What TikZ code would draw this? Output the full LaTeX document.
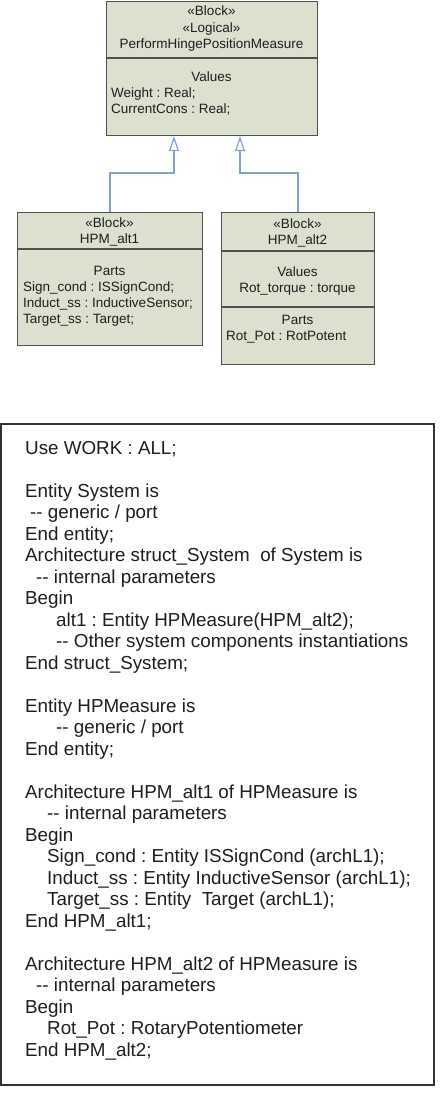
\documentclass[tikz,border=0pt]{standalone}
\usepackage{fontspec}
\setmainfont{Liberation Sans}
\usetikzlibrary{arrows.meta}
\definecolor{blockfill}{RGB}{220,224,206}
\definecolor{blockline}{RGB}{80,80,80}
\definecolor{inhline}{RGB}{130,160,212}
\definecolor{codeline}{RGB}{50,50,50}
\definecolor{txt}{RGB}{30,30,30}
\frenchspacing
\begin{document}
\frenchspacing
\begin{tikzpicture}[x=1pt,y=-1pt,
  blockbox/.style={draw=blockline,line width=1.1pt,fill=blockfill},
  sep/.style={draw=blockline,line width=1.1pt},
  btxt/.style={font=\fontsize{13.5}{16}\selectfont\frenchspacing,text=txt,inner sep=0pt,anchor=base},
  bltxt/.style={btxt,anchor=base west},
  ctxt/.style={font=\fontsize{18.8}{21.5}\selectfont\frenchspacing,text=txt,inner sep=0pt,anchor=base west},
  inh/.style={draw=inhline,line width=1.2pt,-{Triangle[open,length=15pt,width=10pt]}},
  codebox/.style={draw=codeline,line width=1.6pt,fill=white}
]
\path[use as bounding box] (0,0) rectangle (441,1100);

% ---------- top block ----------
\node[blockbox,minimum width=211pt,minimum height=134pt,inner sep=0pt,anchor=north west] (top) at (106,1) {};
\draw[sep] (top.west |- 0,58) -- (top.east |- 0,58);
\node[btxt] (t1) at (211.5,16) {«Block»};
\node[btxt] (t2) at (211.5,32) {«Logical»};
\node[btxt] (t3) at (211.5,48) {PerformHingePositionMeasure};
\node[btxt] (t4) at (211.5,81) {Values};
\node[bltxt] (t5) at (111,97) {Weight : Real;};
\node[bltxt] (t6) at (111,113) {CurrentCons : Real;};

% ---------- HPM_alt1 ----------
\node[blockbox,minimum width=185pt,minimum height=133pt,inner sep=0pt,anchor=north west] (alt1) at (17,212) {};
\draw[sep] (alt1.west |- 0,249) -- (alt1.east |- 0,249);
\node[btxt] (a1) at (109.5,227) {«Block»};
\node[btxt] (a2) at (109.5,243) {HPM\_alt1};
\node[btxt] (a3) at (109.5,275) {Parts};
\node[bltxt] (a4) at (23,291) {Sign\_cond : ISSignCond;};
\node[bltxt] (a5) at (23,307) {Induct\_ss : InductiveSensor;};
\node[bltxt] (a6) at (23,323) {Target\_ss : Target;};

% ---------- HPM_alt2 ----------
\node[blockbox,minimum width=153pt,minimum height=152pt,inner sep=0pt,anchor=north west] (alt2) at (221,212) {};
\draw[sep] (alt2.west |- 0,251) -- (alt2.east |- 0,251);
\draw[sep] (alt2.west |- 0,307) -- (alt2.east |- 0,307);
\node[btxt] (b1) at (297.5,228) {«Block»};
\node[btxt] (b2) at (297.5,244) {HPM\_alt2};
\node[btxt] (b3) at (297.5,276) {Values};
\node[btxt] (b4) at (297.5,292) {Rot\_torque : torque};
\node[btxt] (b5) at (297.5,324) {Parts};
\node[bltxt] (b6) at (226,340) {Rot\_Pot : RotPotent};

% ---------- generalisations ----------
\coordinate (j1) at (174,173);
\coordinate (j2) at (240,173);
\draw[inh] (alt1.north) |- (j1) -- (j1 |- top.south);
\draw[inh] (alt2.north) |- (j2) -- (j2 |- top.south);

% ---------- code box ----------
\node[codebox,minimum width=433pt,minimum height=661pt,inner sep=0pt,anchor=north west] (code) at (0,423) {};
\node[ctxt] (c1)  at (25,454)   {Use WORK : ALL;};
\node[ctxt] (c2)  at (25,497)   {Entity System is};
\node[ctxt] (c3)  at (30,518.5) {-{}- generic / port};
\node[ctxt] (c4)  at (25,540)   {End entity;};
\node[ctxt] (c5)  at (25,561.5) {Architecture struct\_System\ \ of System is};
\node[ctxt] (c6)  at (36,583)   {-{}- internal parameters};
\node[ctxt] (c7)  at (25,604.5) {Begin};
\node[ctxt] (c8)  at (56,626)   {alt1 : Entity HPMeasure(HPM\_alt2);};
\node[ctxt] (c9)  at (56,647.5) {-{}- Other system components instantiations};
\node[ctxt] (c10) at (25,669)   {End struct\_System;};
\node[ctxt] (c11) at (25,712)   {Entity HPMeasure is};
\node[ctxt] (c12) at (56,733.5) {-{}- generic / port};
\node[ctxt] (c13) at (25,755)   {End entity;};
\node[ctxt] (c14) at (25,798)   {Architecture HPM\_alt1 of HPMeasure is};
\node[ctxt] (c15) at (47,819.5) {-{}- internal parameters};
\node[ctxt] (c16) at (25,841)   {Begin};
\node[ctxt] (c17) at (47,862.5) {Sign\_cond : Entity ISSignCond (archL1);};
\node[ctxt] (c18) at (47,884)   {Induct\_ss : Entity InductiveSensor (archL1);};
\node[ctxt] (c19) at (47,905.5) {Target\_ss : Entity\ \ Target (archL1);};
\node[ctxt] (c20) at (25,927)   {End HPM\_alt1;};
\node[ctxt] (c21) at (25,970)   {Architecture HPM\_alt2 of HPMeasure is};
\node[ctxt] (c22) at (36,991.5) {-{}- internal parameters};
\node[ctxt] (c23) at (25,1013)  {Begin};
\node[ctxt] (c24) at (47,1034.5){Rot\_Pot : RotaryPotentiometer};
\node[ctxt] (c25) at (25,1056)  {End HPM\_alt2;};
\end{tikzpicture}
\end{document}
